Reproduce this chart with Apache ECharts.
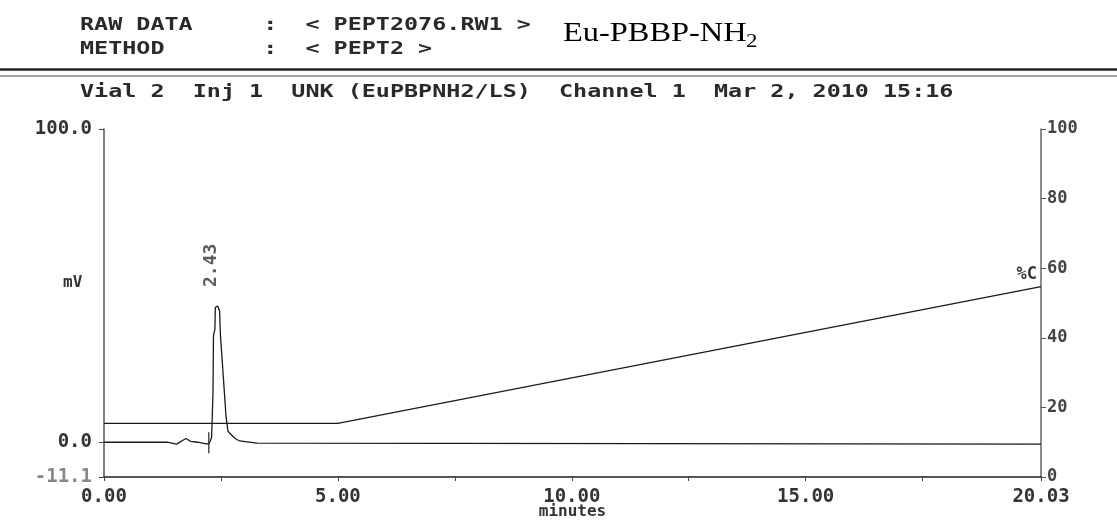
<!DOCTYPE html>
<html><head><meta charset="utf-8">
<script src="https://cdn.jsdelivr.net/npm/echarts@6/dist/echarts.min.js"></script>
<style>html,body{margin:0;padding:0;background:#fff}#c{width:1117px;height:522px}</style>
</head><body><div id="c"></div>
<script>
// ---- texts ----
const headerLines = ['RAW DATA     :  < PEPT2076.RW1 >', 'METHOD       :  < PEPT2 >'];
const sampleTitle = 'Eu-PBBP-NH';
const sampleSub = '2';
const runInfo = 'Vial 2  Inj 1  UNK (EuPBPNH2/LS)  Channel 1  Mar 2, 2010 15:16';
const xName = 'minutes';
const leftName = 'mV';
const rightName = '%C';

// ---- detector signal (mV) ----
const timeMin = [0, 1.35, 1.55, 1.75, 1.85, 2.0, 2.18, 2.25, 2.30, 2.33, 2.34, 2.37, 2.38, 2.43, 2.47, 2.49, 2.55, 2.61, 2.65, 2.69, 2.80, 2.90, 3.27, 20.03];
const signalMv = [0, 0, -0.6, 1.2, 0.3, 0, -0.5, -0.4, 1.5, 16, 34, 36, 43, 43.5, 42, 34, 21, 8, 3.5, 3.1, 1.2, 0.4, -0.3, -0.6];

// ---- peak start marker ----
const markerTime = [2.24, 2.24];
const markerMv = [-3.5, 3.2];

// ---- labelled peak ----
const peakTime = [2.43];
const peakMv = [43.5];

// ---- gradient (%C) ----
const gradTime = [0, 5.0, 20.03];
const gradPct = [15.4, 15.4, 54.7];

// ---- ticks ----
const xTicks = [0, 5, 10, 15, 20.03];
const xMinorTicks = [0, 2.5, 5, 7.5, 10, 12.5, 15, 17.5, 20.03];
const leftTicks = [-11.1, 0, 100];
const rightTicks = [0, 20, 40, 60, 80, 100];

const MONO = '"DejaVu Sans Mono", "Liberation Mono", monospace';
const zip = (a, b) => a.map((v, i) => [v, b[i]]);

const chart = echarts.init(document.getElementById('c'), null, {renderer: 'canvas'});
chart.setOption({
  animation: false,
  backgroundColor: '#ffffff',
  grid: {left: 104, right: 76, top: 129, bottom: 45, containLabel: false, outerBoundsMode: 'none'},
  xAxis: {
    type: 'value', min: 0, max: 20.03,
    name: xName, nameLocation: 'middle', nameGap: 27, nameMoveOverlap: false,
    nameTextStyle: {fontFamily: MONO, fontSize: 16, fontWeight: 'bold', color: '#333'},
    axisLine: {show: true, onZero: false, lineStyle: {color: '#222', width: 1.5}},
    axisTick: {show: true, customValues: xMinorTicks, length: 4, lineStyle: {color: '#444'}},
    axisLabel: {customValues: xTicks, margin: 11, fontFamily: MONO, fontSize: 19, fontWeight: 'bold', color: '#333',
      formatter: v => v.toFixed(2)},
    splitLine: {show: false}
  },
  yAxis: [{
    type: 'value', min: -11.1, max: 100, position: 'left',
    axisLine: {show: true, onZero: false, lineStyle: {color: '#555', width: 1.5}},
    axisTick: {show: true, customValues: leftTicks, length: 5, lineStyle: {color: '#444'}},
    axisLabel: {customValues: leftTicks, margin: 12, fontFamily: MONO, fontSize: 19, fontWeight: 'bold',
      color: v => (v === 0 ? '#bbbbbb' : (v < 0 ? '#888888' : '#333333')),
      formatter: v => v.toFixed(1)},
    splitLine: {show: false}
  }, {
    type: 'value', min: 0, max: 100, position: 'right',
    axisLine: {show: true, onZero: false, lineStyle: {color: '#666', width: 1.5}},
    axisTick: {show: true, customValues: rightTicks, length: 5, lineStyle: {color: '#555'}},
    axisLabel: {customValues: rightTicks, margin: 6, fontFamily: MONO, fontSize: 17, fontWeight: 'bold', color: '#444',
      formatter: v => String(v)},
    splitLine: {show: false}
  }],
  series: [{
    name: 'signal', type: 'line', yAxisIndex: 0, showSymbol: false, symbol: 'none',
    data: zip(timeMin, signalMv),
    lineStyle: {color: '#1a1a1a', width: 1.3}
  }, {
    name: 'marker', type: 'line', yAxisIndex: 0, showSymbol: false, symbol: 'none',
    data: zip(markerTime, markerMv),
    lineStyle: {color: '#333', width: 1.3}
  }, {
    name: 'gradient', type: 'line', yAxisIndex: 1, showSymbol: false, symbol: 'none',
    data: zip(gradTime, gradPct),
    lineStyle: {color: '#1a1a1a', width: 1.3}
  }, {
    name: 'peak', type: 'scatter', yAxisIndex: 0, symbolSize: 0,
    data: zip(peakTime, peakMv),
    label: {show: true, position: 'top', distance: 19, rotate: 90, align: 'left', verticalAlign: 'middle',
      offset: [0, -6],
      fontFamily: MONO, fontSize: 18, fontWeight: 'bold', color: '#333',
      formatter: p => p.value[0].toFixed(2)}
  }],
  graphic: [
    {type: 'text', x: 80, y: 25.5, scaleX: 1.3, style: {text: headerLines[0], font: 'bold 18px ' + MONO, fill: '#2a2a2a', align: 'left', verticalAlign: 'middle'}},
    {type: 'text', x: 80, y: 49.5, scaleX: 1.3, style: {text: headerLines[1], font: 'bold 18px ' + MONO, fill: '#2a2a2a', align: 'left', verticalAlign: 'middle'}},
    {type: 'text', x: 563, y: 34, scaleX: 1.2, style: {text: sampleTitle, font: '27px "Liberation Serif", "Times New Roman", serif', fill: '#000', align: 'left', verticalAlign: 'middle'}},
    {type: 'text', x: 746, y: 42, scaleX: 1.2, style: {text: sampleSub, font: '19px "Liberation Serif", "Times New Roman", serif', fill: '#000', align: 'left', verticalAlign: 'middle'}},
    {type: 'line', shape: {x1: 0, y1: 69.5, x2: 1117, y2: 69.5}, style: {stroke: '#222', lineWidth: 2.5}},
    {type: 'line', shape: {x1: 0, y1: 76, x2: 1117, y2: 76}, style: {stroke: '#444', lineWidth: 1}},
    {type: 'text', x: 80, y: 92, scaleX: 1.3, style: {text: runInfo, font: 'bold 18px ' + MONO, fill: '#2a2a2a', align: 'left', verticalAlign: 'middle'}},
    {type: 'text', x: 63, y: 283, style: {text: leftName, font: 'bold 16px ' + MONO, fill: '#333', align: 'left', verticalAlign: 'middle'}},
    {type: 'text', x: 1037, y: 275, style: {text: rightName, font: 'bold 17px ' + MONO, fill: '#333', align: 'right', verticalAlign: 'middle'}}
  ]
});
</script></body></html>
